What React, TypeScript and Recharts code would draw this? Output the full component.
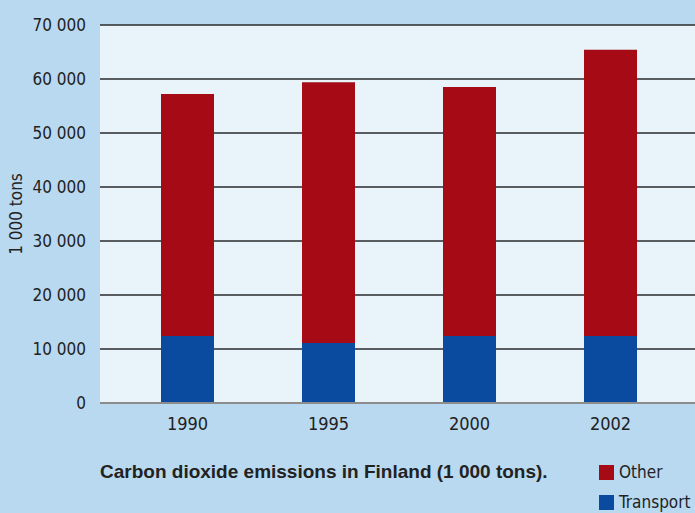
import React from 'react';
import { BarChart, Bar, XAxis, YAxis, CartesianGrid } from 'recharts';

// values, 1 000 tons
const years = ['1990', '1995', '2000', '2002'];
const transport = [12400, 11100, 12400, 12400];
const other = [44800, 48300, 46100, 53000];
const yTicks = [0, 10000, 20000, 30000, 40000, 50000, 60000, 70000];

const data = years.map((year, i) => ({
    year,
    transport: transport[i],
    other: other[i],
}));

const FONT = '"DejaVu Sans Condensed", "Liberation Sans", sans-serif';
const BG = '#b9d9f0';
const PLOT_BG = '#e8f3fa';
const RED = '#a60a14';
const BLUE = '#0b4b9f';

// "70 000" style thousands spacing
const fmt = (v: number) => (v === 0 ? '0' : `${Math.floor(v / 1000)} 000`);

const legendItems = [
    { name: 'Other', color: RED },
    { name: 'Transport', color: BLUE },
];

export default function App() {
    return (
        <div style={{ position: 'fixed', left: 0, top: 0, width: 695, height: 513, background: BG, overflow: 'hidden' }}>
            <BarChart
                width={695}
                height={513}
                data={data}
                margin={{ top: 25, right: 0, left: 0, bottom: 0 }}
                barSize={53}
            >
                <CartesianGrid vertical={false} fill={PLOT_BG} stroke="#2b2b2b" strokeWidth={1.3} fillOpacity={1} />
                <XAxis
                    dataKey="year"
                    height={110}
                    padding={{ left: 17, right: 14 }}
                    tickLine={false}
                    axisLine={{ stroke: '#8c8c8c', strokeWidth: 2 }}
                    tick={{ fontFamily: FONT, fontSize: 18, fill: '#222' }}
                    tickMargin={8}
                />
                <YAxis
                    width={100}
                    domain={[0, 70000]}
                    ticks={yTicks}
                    tickFormatter={fmt}
                    axisLine={false}
                    tickLine={false}
                    tickMargin={8}
                    tick={{ fontFamily: FONT, fontSize: 17, fill: '#222' }}
                    label={{
                        value: '1 000 tons',
                        angle: -90,
                        position: 'insideLeft',
                        offset: 16,
                        style: { fontFamily: FONT, fontSize: 17, fill: '#222', textAnchor: 'middle' },
                    }}
                />
                <Bar dataKey="transport" stackId="a" fill={BLUE} isAnimationActive={false} />
                <Bar dataKey="other" stackId="a" fill={RED} isAnimationActive={false} />
            </BarChart>
            <div
                style={{
                    position: 'absolute',
                    left: 100,
                    top: 461,
                    fontFamily: '"Liberation Sans", "DejaVu Sans", sans-serif',
                    fontWeight: 'bold',
                    fontSize: 19,
                    color: '#222',
                    whiteSpace: 'nowrap',
                }}
            >
                Carbon dioxide emissions in Finland (1 000 tons).
            </div>
            <div
                style={{
                    position: 'absolute',
                    left: 599,
                    top: 457,
                    fontFamily: FONT,
                    fontSize: 17,
                    color: '#222',
                    lineHeight: '30px',
                }}
            >
                {legendItems.map((item) => (
                    <div key={item.name} style={{ display: 'flex', alignItems: 'center', gap: 5 }}>
                        <span style={{ width: 15, height: 15, background: item.color, display: 'inline-block' }} />
                        <span>{item.name}</span>
                    </div>
                ))}
            </div>
        </div>
    );
}
